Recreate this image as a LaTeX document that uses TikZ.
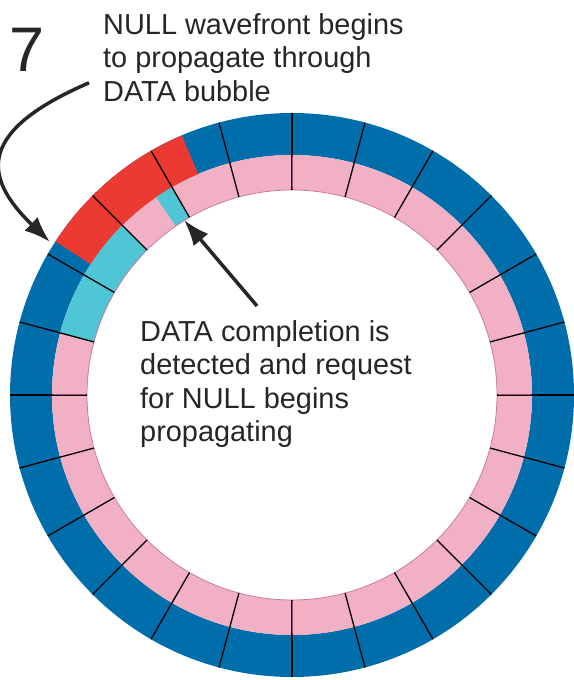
\documentclass[tikz,border=0pt]{standalone}
\usepackage{fontspec}
\setmainfont{Liberation Sans}
\usetikzlibrary{arrows.meta}

\definecolor{ringblue}{RGB}{0,110,170}
\definecolor{ringpink}{RGB}{242,176,196}
\definecolor{nullred}{RGB}{236,58,50}
\definecolor{reqcyan}{RGB}{78,198,214}
\definecolor{seampurple}{RGB}{160,70,130}

% ячейка кольца: угол от, угол до, внутр. радиус, внешн. радиус, цвет
\newcommand{\ringcell}[5]{%
    \fill[#5] ([shift={(#1:#4)}]c) arc[start angle=#1, end angle=#2, radius=#4]
        -- ([shift={(#2:#3)}]c) arc[start angle=#2, end angle=#1, radius=#3] -- cycle;}

\begin{document}
\begin{tikzpicture}[
        x=1pt, y=1pt,
        txt/.style={inner sep=0pt, align=left, text=black!85, font=\fontsize{28.9}{33.6}\selectfont}, % подписи
        bignum/.style={inner sep=0pt, text=black!85, font=\fontsize{63}{63}\selectfont}, % номер шага
        pointer/.style={line width=3.5pt, black!85, -{Latex[length=26pt, width=19pt]}}, % стрелки
        seam/.style={line width=1.3pt, black}, % границы ячеек
    ]
    \useasboundingbox (0,0) rectangle (573,680);
    \coordinate (c) at (292,285); % центр кольца

    % кольцо
    \ringcell{0}{360}{240}{282}{ringblue}
    \ringcell{0}{360}{205}{240}{ringpink}
    \ringcell{113}{147}{240}{282}{nullred} % NULL фронт
    \ringcell{135}{165}{205}{240}{reqcyan}
    \ringcell{120}{124.5}{205}{240}{reqcyan}
    \draw[line width=0.8pt, seampurple!50!ringpink] (c) circle (205);
    \foreach \a in {0,15,...,345}
        \draw[seam] ([shift={(\a:205)}]c) -- ([shift={(\a:282)}]c);
    \foreach \a in {0,90,180,270}
        \draw[line width=1pt, seampurple] ([shift={(\a:206)}]c) -- ([shift={(\a:239)}]c);

    % подписи
    \node[bignum, anchor=base west] (step) at (9,608) {7};
    \node[txt, anchor=north west] (nulltxt) at (103,667) {NULL wavefront begins\\to propagate through\\DATA bubble};
    \node[txt, anchor=north west] (reqtxt) at (140,360) {DATA completion is\\detected and request\\for NULL begins\\propagating};

    % стрелки
    \coordinate (nulltip) at (50,438);
    \coordinate (reqtip) at (184,460);
    \draw[pointer] ([shift={(-14,19)}]nulltxt.south west) .. controls (-20,550) and (-20,505) .. (nulltip);
    \draw[pointer] ([shift={(117,14)}]reqtxt.north west) -- (reqtip);
\end{tikzpicture}
\end{document}
